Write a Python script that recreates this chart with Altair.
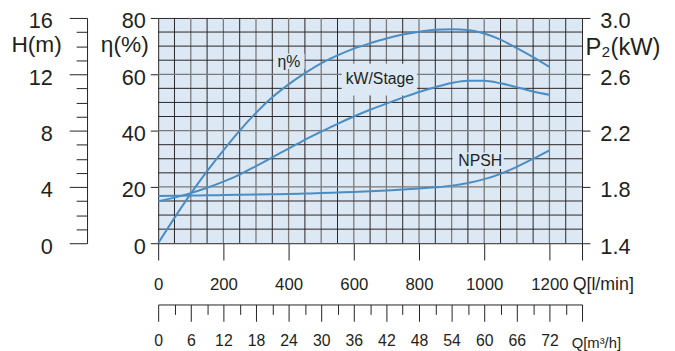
import altair as alt
import pandas as pd

# ---- data ----
Q = list(range(0, 1201, 50))  # l/min
ETA = [0, 9.0, 17.6, 25.6, 33.0, 40.0, 46.3, 51.8, 56.4, 60.4, 63.9, 66.7, 69.1,
       71.0, 72.7, 74.1, 75.1, 75.8, 76.0, 75.7, 74.5, 72.3, 69.3, 66.1, 62.6]
P2 = [1.698, 1.724, 1.756, 1.794, 1.838, 1.888, 1.948, 2.010, 2.072, 2.134, 2.192,
      2.248, 2.300, 2.348, 2.392, 2.434, 2.474, 2.508, 2.538, 2.554, 2.554, 2.536,
      2.508, 2.478, 2.454]
NPSH = [3.35, 3.37, 3.39, 3.40, 3.42, 3.44, 3.46, 3.48, 3.50, 3.53, 3.56, 3.60, 3.64,
        3.69, 3.75, 3.81, 3.88, 3.97, 4.09, 4.28, 4.55, 4.93, 5.43, 6.00, 6.60]

GRID_Q = list(range(50, 1300, 50))
GRID_ETA = list(range(5, 80, 5))

Q_TICKS = [0, 200, 400, 600, 800, 1000, 1200, 1300]
ETA_TICKS = [0, 20, 40, 60, 80]
H_TICKS = [0, 4, 8, 12, 16]
H_MINOR = [1, 2, 3, 5, 6, 7, 9, 10, 11, 13, 14, 15]
P2_TICKS = [1.4, 1.8, 2.2, 2.6, 3.0]
M3H_TICKS = list(range(0, 79, 6))
M3H_MINOR = list(range(3, 78, 6))

LABEL_TEXT = ["η%", "kW/Stage", "NPSH"]
LABEL_Q = [401, 680, 988]
LABEL_ETA = [64.4, 58.3, 29.3]
BOX_Q1 = [353, 563, 903]
BOX_Q2 = [449, 794, 1060]
BOX_E1 = [61.9, 52.5, 26.4]
BOX_E2 = [67.3, 63.7, 32.2]

# ---- styling ----
FONT = "Liberation Sans"
INK = "#231f20"
CURVE = "#4a8dc2"
BG = "#dce8f4"
DARK = "#2b2424"
GRAY = "#7a7a7a"

curves = pd.DataFrame({"q": Q, "eta": ETA, "p2": P2, "npsh": NPSH})
grid_v = pd.DataFrame({"q": GRID_Q})
grid_h = pd.DataFrame({"eta": GRID_ETA})
labels = pd.DataFrame({"text": LABEL_TEXT, "q": LABEL_Q, "eta": LABEL_ETA,
                       "q1": BOX_Q1, "q2": BOX_Q2, "e1": BOX_E1, "e2": BOX_E2})
h_dummy = pd.DataFrame({"h": [0, 16]})
m_dummy = pd.DataFrame({"m": [0, 78]})

q_scale = alt.Scale(domain=[0, 1300], nice=False, zero=False)
eta_scale = alt.Scale(domain=[0, 80], nice=False, zero=False)
h_scale = alt.Scale(domain=[0, 16], nice=False, zero=False)
p_scale = alt.Scale(domain=[1.4, 3.0], nice=False, zero=False)
m_scale = alt.Scale(domain=[0, 78], nice=False, zero=False)

common = dict(labelFont=FONT, labelColor=INK, tickColor=INK, domainColor=INK,
              titleFont=FONT, titleColor=INK, titleFontWeight="normal",
              labelOverlap=False, labelFlush=False, labelBound=False, grid=False,
              tickWidth=1, domainWidth=1)

q_axis = alt.Axis(orient="bottom", values=Q_TICKS, tickSize=17, labelFontSize=17,
                  labelBaseline="middle", labelPadding=25, format="d",
                  labelExpr="datum.value > 1200 ? '' : datum.label", domain=False,
                  title="Q[l/min]", titleFontSize=18, titleX=419, titleY=42,
                  titleAlign="left", titleBaseline="middle", titleAngle=0, **common)

eta_axis = alt.Axis(orient="left", values=ETA_TICKS, tickSize=8, labelFontSize=22,
                    labelPadding=5, labelOffset=3, domain=False, title="η(%)",
                    titleFontSize=23, titleX=-10, titleY=27, titleAlign="right",
                    titleBaseline="middle", titleAngle=0, **common)

h_axis = alt.Axis(orient="left", offset=72, values=H_TICKS, tickSize=18,
                  labelFontSize=22, labelPadding=17, labelOffset=3, domain=True,
                  title="H(m)", titleFontSize=23, titleX=-26, titleY=27,
                  titleAlign="right", titleBaseline="middle", titleAngle=0, **common)

h_minor_axis = alt.Axis(orient="left", offset=72, values=H_MINOR, tickSize=11,
                        labels=False, domain=False, **common)

p_axis = alt.Axis(orient="right", values=P2_TICKS, tickSize=8, labelFontSize=22,
                  labelPadding=10, labelOffset=3, format=".1f", domain=False,
                  title="P₂(kW)", titleFontSize=24, titleX=3, titleY=30,
                  titleAlign="left", titleBaseline="middle", titleAngle=0, **common)

m_axis = alt.Axis(orient="bottom", offset=62, values=M3H_TICKS, tickSize=17,
                  labelFontSize=16, labelBaseline="middle", labelPadding=20,
                  labelExpr="datum.value > 72 ? '' : datum.label", domain=True,
                  title="Q[m³/h]", titleFontSize=15, titleX=418, titleY=39,
                  titleAlign="left", titleBaseline="middle", titleAngle=0, **common)

m_minor_axis = alt.Axis(orient="bottom", offset=62, values=M3H_MINOR, tickSize=10,
                        labels=False, domain=False, **common)

vgrid = alt.Chart(grid_v).mark_rule().encode(
    x=alt.X("q:Q", scale=q_scale, axis=q_axis),
    color=alt.condition("datum.q % 100 === 0", alt.value(GRAY), alt.value(DARK)),
    strokeWidth=alt.condition("datum.q % 100 === 0", alt.value(1.3), alt.value(1)),
)

hgrid = alt.Chart(grid_h).mark_rule().encode(
    y=alt.Y("eta:Q", scale=eta_scale, axis=eta_axis),
    color=alt.condition("datum.eta % 20 === 0", alt.value(GRAY), alt.value(DARK)),
    strokeWidth=alt.condition("datum.eta % 20 === 0", alt.value(1.3), alt.value(1)),
)

boxes = alt.Chart(labels).mark_rect(color=BG).encode(
    x=alt.X("q1:Q", scale=q_scale, axis=None), x2="q2",
    y=alt.Y("e1:Q", scale=eta_scale, axis=None), y2="e2",
)

texts = alt.Chart(labels).mark_text(font=FONT, fontSize=16, color=INK).encode(
    x=alt.X("q:Q", scale=q_scale, axis=None),
    y=alt.Y("eta:Q", scale=eta_scale, axis=None),
    text="text:N",
)

line_kw = dict(color=CURVE, strokeWidth=2, interpolate="monotone")

eta_line = alt.Chart(curves).mark_line(**line_kw).encode(
    x=alt.X("q:Q", scale=q_scale, axis=None),
    y=alt.Y("eta:Q", scale=eta_scale, axis=None),
)

p_line = alt.Chart(curves).mark_line(**line_kw).encode(
    x=alt.X("q:Q", scale=q_scale, axis=None),
    y=alt.Y("p2:Q", scale=p_scale, axis=p_axis),
)

npsh_line = alt.Chart(curves).mark_line(**line_kw).encode(
    x=alt.X("q:Q", scale=q_scale, axis=None),
    y=alt.Y("npsh:Q", scale=h_scale, axis=h_axis),
)

h_minor = alt.Chart(h_dummy).mark_point(opacity=0).encode(
    y=alt.Y("h:Q", scale=h_scale, axis=h_minor_axis, title=None),
)

m_major = alt.Chart(m_dummy).mark_point(opacity=0).encode(
    x=alt.X("m:Q", scale=m_scale, axis=m_axis),
)

m_minor = alt.Chart(m_dummy).mark_point(opacity=0).encode(
    x=alt.X("m:Q", scale=m_scale, axis=m_minor_axis, title=None),
)

chart = alt.layer(
    vgrid, hgrid, boxes, texts, eta_line, p_line, npsh_line, h_minor, m_major, m_minor
).resolve_scale(
    x="independent", y="independent"
).properties(
    width=429, height=228,
    autosize=alt.AutoSizeParams(type="none"),
    padding={"left": 152, "top": 8, "right": 86, "bottom": 107},
    background="white",
).configure_view(
    fill=BG, stroke=DARK, strokeWidth=1
)

chart.save("out.html", embed_options={"renderer": "svg", "actions": False})
